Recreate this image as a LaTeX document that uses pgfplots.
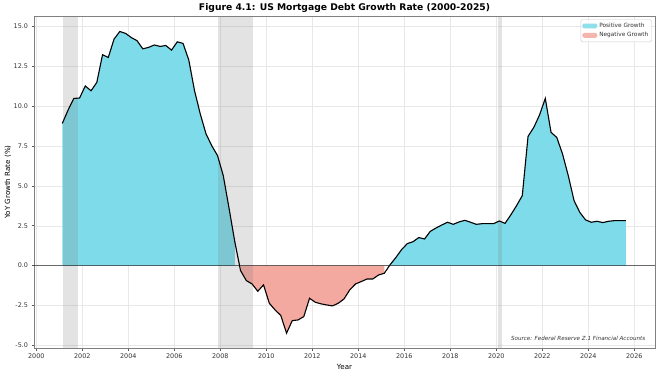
\documentclass[border=0pt]{standalone}
\usepackage{pgfplots}
\pgfplotsset{compat=1.18}
\usepackage{pgfplotstable}
\usepackage{fontspec}
\setmainfont{DejaVu Sans}
\definecolor{posfill}{HTML}{7DDBEA}
\definecolor{negfill}{HTML}{F4A9A0}
\pgfplotstableread{
x y
2001.13 8.92
2001.38 9.75
2001.63 10.49
2001.88 10.51
2002.13 11.27
2002.38 10.97
2002.63 11.49
2002.88 13.23
2003.13 13.06
2003.38 14.21
2003.63 14.69
2003.88 14.57
2004.13 14.31
2004.38 14.11
2004.63 13.60
2004.88 13.69
2005.13 13.84
2005.38 13.75
2005.63 13.81
2005.88 13.52
2006.13 14.04
2006.38 13.94
2006.63 12.90
2006.88 10.97
2007.13 9.51
2007.38 8.26
2007.63 7.52
2007.88 6.90
2008.13 5.64
2008.38 3.60
2008.63 1.50
2008.88 -0.31
2009.13 -0.94
2009.38 -1.15
2009.63 -1.61
2009.88 -1.21
2010.13 -2.36
2010.38 -2.78
2010.63 -3.13
2010.88 -4.24
2011.13 -3.45
2011.38 -3.41
2011.63 -3.20
2011.88 -2.05
2012.13 -2.30
2012.38 -2.40
2012.63 -2.47
2012.88 -2.53
2013.13 -2.36
2013.38 -2.09
2013.63 -1.52
2013.88 -1.15
2014.13 -1.00
2014.38 -0.84
2014.63 -0.84
2014.88 -0.59
2015.13 -0.48
2015.38 0.05
2015.63 0.50
2015.88 1.00
2016.13 1.38
2016.38 1.50
2016.63 1.76
2016.88 1.67
2017.13 2.15
2017.38 2.36
2017.63 2.55
2017.88 2.72
2018.13 2.59
2018.38 2.74
2018.63 2.84
2018.88 2.72
2019.13 2.59
2019.38 2.63
2019.63 2.63
2019.88 2.63
2020.13 2.80
2020.38 2.65
2020.63 3.18
2020.88 3.76
2021.13 4.39
2021.38 8.11
2021.63 8.67
2021.88 9.45
2022.13 10.49
2022.38 8.36
2022.63 8.04
2022.88 7.00
2023.13 5.64
2023.38 4.08
2023.63 3.34
2023.88 2.87
2024.13 2.72
2024.38 2.78
2024.63 2.70
2024.88 2.78
2025.13 2.82
2025.38 2.82
2025.63 2.82
}\growth

\begin{document}
\begin{tikzpicture}
\path[use as bounding box] (-34pt,-27pt) rectangle (626pt,348pt);
\begin{axis}[
  at={(0pt,0pt)}, anchor=south west,
  scale only axis, width=621pt, height=332pt,
  xmin=1999.9, xmax=2026.9, ymin=-5.17, ymax=15.66,
  xtick={2000,2002,...,2026},
  ytick={-5,-2.5,0,2.5,5,7.5,10,12.5,15},
  xtick pos=bottom, ytick pos=left,
  tick align=outside, major tick length=2.5pt,
  tick style={black!65, line width=0.6pt},
  /pgf/number format/assume math mode=true,
  xticklabel style={/pgf/number format/1000 sep={}, /pgf/number format/precision=0},
  yticklabel style={/pgf/number format/.cd, fixed, fixed zerofill, precision=1},
  scaled y ticks=false,
  ticklabel style={font=\fontsize{6.4}{7.5}\selectfont, text=black!80},
  grid=major,
  major grid style={black!9, line width=0.5pt},
  axis line style={black!50, line width=0.8pt},
  title={\bfseries Figure 4.1: US Mortgage Debt Growth Rate (2000-2025)},
  title style={font=\fontsize{9.2}{11}\selectfont, at={(0.5,1)}, anchor=base, yshift=-1pt, inner sep=0pt},
  xlabel={Year},
  xlabel style={font=\fontsize{7.1}{8.5}\selectfont, at={(axis description cs:0.5,0)}, anchor=center, yshift=-19pt},
  ylabel={YoY Growth Rate (\%)},
  ylabel style={font=\fontsize{7.1}{8.5}\selectfont, at={(axis description cs:-0.0419,0.5)}, anchor=center},
  legend style={at={(0.995,0.99)}, anchor=north east, font=\fontsize{5.8}{7}\selectfont,
    draw=black!20, rounded corners=1.5pt, fill=white, fill opacity=0.85, text opacity=1,
    inner sep=1.5pt, row sep=-0.5pt, text=black!80},
  legend cell align=left,
  legend image code/.code={\path[#1] (0pt,-2.4pt) rectangle (15pt,2.4pt);},
]
\addplot[fill=posfill, draw=none, restrict x to domain=2001:2008.7] table[x=x,y=y]{\growth} \closedcycle;
\addlegendentry{Positive Growth}
\addplot[fill=negfill, draw=none, restrict x to domain=2008.8:2015.2] table[x=x,y=y]{\growth} \closedcycle;
\addlegendentry{Negative Growth}
\addplot[fill=posfill, draw=none, forget plot, restrict x to domain=2015.3:2026] table[x=x,y=y]{\growth} \closedcycle;
\fill[gray, opacity=0.22] (axis cs:2001.16,-5.17) rectangle (axis cs:2001.83,15.66);
\fill[gray, opacity=0.22] (axis cs:2007.92,-5.17) rectangle (axis cs:2009.42,15.66);
\fill[gray, opacity=0.22] (axis cs:2020.08,-5.17) rectangle (axis cs:2020.25,15.66);
\draw[black, opacity=0.55, line width=1pt] (axis cs:1999.9,0) -- (axis cs:2026.9,0);
\addplot[black, line width=1.1pt, forget plot] table[x=x,y=y]{\growth};
\node[anchor=south east, font=\fontsize{5.6}{7}\selectfont\itshape, text=black!80] at (rel axis cs:0.99,0.012) {Source: Federal Reserve Z.1 Financial Accounts};
\end{axis}
\end{tikzpicture}
\end{document}
